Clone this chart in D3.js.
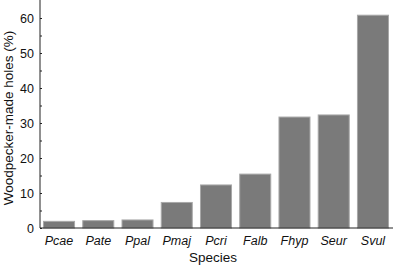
<!DOCTYPE html>
<html><head><meta charset="utf-8">
<script src="https://cdn.jsdelivr.net/npm/d3@7"></script>
<style>body{margin:0;background:#fff}svg{display:block}text{font-family:"Liberation Sans",Arial,sans-serif;fill:#111}</style>
</head><body><svg id="c" width="394" height="266"></svg>
<script>
const species = ["Pcae","Pate","Ppal","Pmaj","Pcri","Falb","Fhyp","Seur","Svul"];
const holes = [1.9, 2.1, 2.3, 7.3, 12.3, 15.4, 31.7, 32.3, 60.8];
const yTicks = [0,10,20,30,40,50,60];
const minorTicks = [5,15,25,35,45,55];

const svg = d3.select("#c");
const x0 = 40, x1 = 392, yB = 228, yT = 0.5;
const x = d3.scaleBand().domain(species).range([x0, x1]).paddingInner(0.184).paddingOuter(0.077);
const y = d3.scaleLinear().domain([0, 65]).range([yB, yT]);

svg.selectAll("rect.bar").data(species).enter().append("rect")
  .attr("class","bar")
  .attr("x", d => x(d)+0.5).attr("width", x.bandwidth()-1)
  .attr("y", (d,i) => y(holes[i])).attr("height", (d,i) => yB - y(holes[i]))
  .attr("fill","#7a7a7a").attr("stroke","#a8a8a8").attr("stroke-width",1);

// y axis
const ya = svg.append("g").attr("transform",`translate(${x0},0)`)
  .call(d3.axisRight(y).tickValues(yTicks).tickSize(2).tickFormat(""));
ya.select(".domain").remove();
ya.selectAll("line").attr("stroke","#222");
svg.append("g").attr("transform",`translate(${x0},0)`)
  .call(d3.axisRight(y).tickValues(minorTicks).tickSize(2).tickFormat(""))
  .call(g=>g.select(".domain").remove()).selectAll("line").attr("stroke","#222");
svg.append("line").attr("x1",x0).attr("x2",x0).attr("y1",0).attr("y2",yB).attr("stroke","#222");
svg.append("line").attr("x1",x0).attr("x2",x1+1).attr("y1",yB).attr("y2",yB).attr("stroke","#222");

svg.selectAll("text.yt").data(yTicks).enter().append("text")
  .attr("x",34).attr("y",d=>y(d)).attr("dy","0.36em").attr("text-anchor","end")
  .attr("font-size",12.5).text(d=>d);

svg.selectAll("text.xt").data(species).enter().append("text")
  .attr("x",d=>x(d)+x.bandwidth()/2).attr("y",244.5).attr("text-anchor","middle")
  .attr("font-size",12.5).attr("font-style","italic").text(d=>d);

svg.append("text").attr("x",213).attr("y",261.5).attr("text-anchor","middle").attr("font-size",13.5).text("Species");
svg.append("text").attr("transform","translate(13,118) rotate(-90)").attr("text-anchor","middle")
  .attr("font-size",13.5).text("Woodpecker-made holes (%)");
</script></body></html>
